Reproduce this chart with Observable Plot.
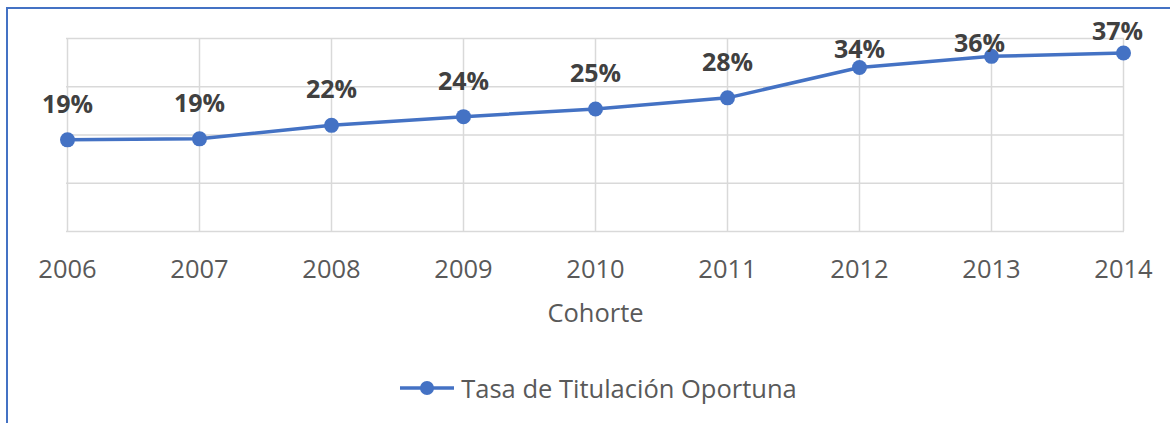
<!DOCTYPE html>
<html><head><meta charset="utf-8">
<script src="https://cdn.jsdelivr.net/npm/d3@7"></script>
<script src="https://cdn.jsdelivr.net/npm/@observablehq/plot@0.6"></script>
<style>
html,body{margin:0;padding:0;background:#fff;}
body{width:1170px;height:423px;overflow:hidden;position:relative;font-family:"Open Sans",sans-serif;}
#frame{position:absolute;left:6px;top:7px;width:1200px;height:440px;border-left:2px solid #4472c4;border-top:2px solid #4472c4;box-sizing:border-box;}
#chart{position:absolute;left:0;top:0;}
#legend{position:absolute;left:13px;top:371px;width:1170px;height:34px;display:flex;justify-content:center;align-items:center;color:#595959;font-size:25.5px;}
#legend svg{margin-right:6px;}
</style>
</head><body>
<div id="frame"></div>
<div id="chart"></div>
<div id="legend"></div>
<script>
const years = [2006, 2007, 2008, 2009, 2010, 2011, 2012, 2013, 2014];
const rates = [0.19, 0.192, 0.22, 0.238, 0.254, 0.277, 0.34, 0.363, 0.37];
const yTicks = [0, 0.1, 0.2, 0.3, 0.4];
const seriesName = "Tasa de Titulación Oportuna";
const xLabel = "Cohorte";

const fmt = d3.format(".0%");
const data = years.map((year, i) => ({year, rate: rates[i], label: fmt(rates[i])}));
const blue = "#4472c4";
const labelStyle = {x: "year", y: "rate", text: "label", fontSize: 25, fontWeight: "bold", fill: "#404040"};

const chart = Plot.plot({
  width: 1170, height: 330,
  marginLeft: 66, marginRight: 46, marginTop: 38, marginBottom: 99,
  style: {fontFamily: "'Open Sans', sans-serif", color: "#595959", background: "transparent"},
  x: {type: "point", domain: years, padding: 0},
  y: {domain: [0, 0.4], axis: null},
  marks: [
    Plot.ruleY(yTicks, {stroke: "#d9d9d9", strokeWidth: 1.5, strokeOpacity: 1}),
    Plot.ruleX(years, {stroke: "#d9d9d9", strokeWidth: 1.5, strokeOpacity: 1}),
    Plot.axisX({tickSize: 0, tickPadding: 28, fontSize: 25.5, tickFormat: d => String(d),
      label: xLabel, labelAnchor: "center", labelOffset: 90}),
    Plot.line(data, {x: "year", y: "rate", stroke: blue, strokeWidth: 3.5}),
    Plot.dot(data, {x: "year", y: "rate", r: 7.5, fill: blue, stroke: "none"}),
    Plot.text(data.filter(d => d.year <= 2011), {...labelStyle, dy: -35}),
    Plot.text(data.filter(d => d.year === 2012), {...labelStyle, dy: -17}),
    Plot.text(data.filter(d => d.year === 2013), {...labelStyle, dy: -12, dx: -12}),
    Plot.text(data.filter(d => d.year === 2014), {...labelStyle, dy: -21, dx: -6})
  ]
});
document.getElementById("chart").appendChild(chart);

const leg = document.getElementById("legend");
leg.innerHTML = `<svg width="56" height="20"><line x1="1" x2="55" y1="10" y2="10" stroke="${blue}" stroke-width="3.5"/><circle cx="28" cy="10" r="7" fill="${blue}"/></svg><span>${seriesName}</span>`;
</script>
</body></html>
